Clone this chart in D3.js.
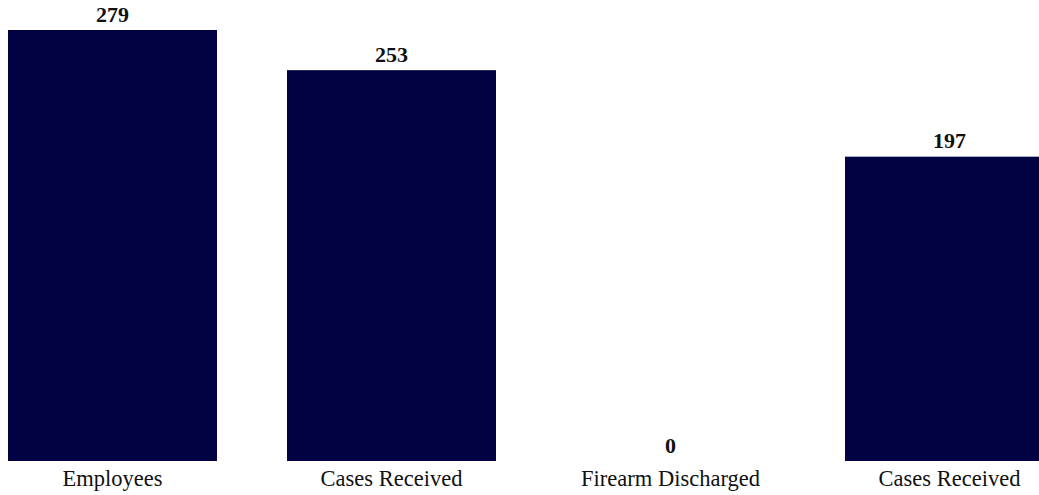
<!DOCTYPE html>
<html>
<head>
<meta charset="utf-8">
<script src="https://cdn.jsdelivr.net/npm/d3@7"></script>
<style>
  html, body { margin: 0; padding: 0; background: #fff; overflow: hidden; }
  svg { display: block; }
</style>
</head>
<body>
<svg id="chart" width="1039" height="495"></svg>
<script>
// Category labels and counts for each bar
const categories = ["Employees", "Cases Received", "Firearm Discharged", "Cases Received"];
const values = [279, 253, 0, 197];

const width = 1039, height = 495;
const svg = d3.select("#chart");

const keys = categories.map((c, i) => i);

// Band scale runs past the right edge, so the last bar is cut off by the view
const x = d3.scaleBand()
  .domain(keys)
  .range([8, 1054])
  .paddingInner(0.2509)
  .paddingOuter(0);

const y = d3.scaleLinear()
  .domain([0, d3.max(values)])
  .range([461, 30]);

const barColor = "#020242";
const font = "'Liberation Serif', 'Times New Roman', serif";

svg.selectAll("rect.bar")
  .data(keys)
  .join("rect")
  .attr("class", "bar")
  .attr("x", i => x(i))
  .attr("y", i => y(values[i]))
  .attr("width", x.bandwidth())
  .attr("height", i => y(0) - y(values[i]))
  .attr("fill", barColor);

// Value labels above each bar
svg.selectAll("text.value")
  .data(keys)
  .join("text")
  .attr("class", "value")
  .attr("x", i => x(i) + x.bandwidth() / 2)
  .attr("y", i => y(values[i]) - 8.5)
  .attr("text-anchor", "middle")
  .attr("font-family", font)
  .attr("font-weight", "bold")
  .attr("font-size", "22px")
  .attr("fill", "#111")
  .text(i => values[i]);

// Category labels under the baseline
svg.selectAll("text.category")
  .data(keys)
  .join("text")
  .attr("class", "category")
  .attr("x", i => x(i) + x.bandwidth() / 2)
  .attr("y", y(0) + 25)
  .attr("text-anchor", "middle")
  .attr("font-family", font)
  .attr("font-size", "22.5px")
  .attr("fill", "#111")
  .text(i => categories[i]);
</script>
</body>
</html>
